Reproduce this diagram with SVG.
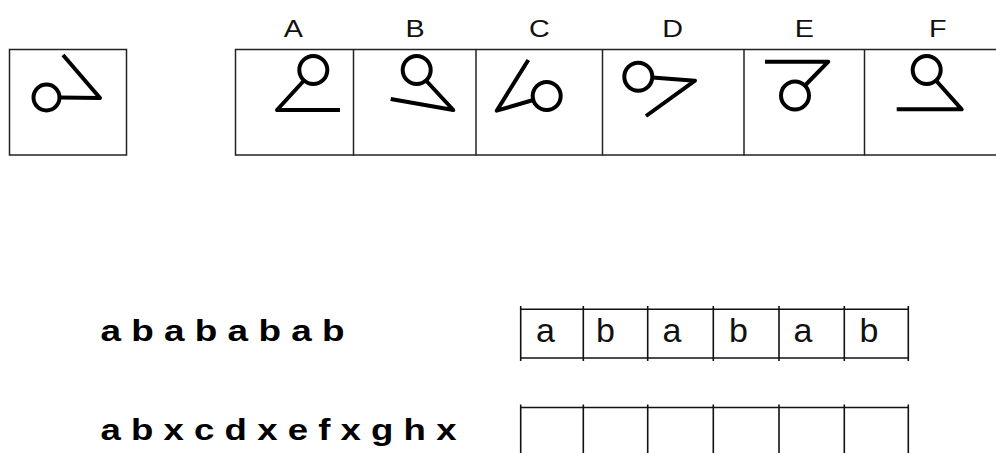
<svg xmlns="http://www.w3.org/2000/svg" width="996" height="453" viewBox="0 0 996 453">
<style>
.frame{fill:none;stroke:#222;stroke-width:1.5}
.grid{fill:none;stroke:#111;stroke-width:1.6}
.fig{fill:none;stroke:#000;stroke-width:4;stroke-linejoin:round;stroke-linecap:butt}
.lab{font-family:"Liberation Sans",Arial,sans-serif;font-size:23px;fill:#111}
.seq{font-family:"Liberation Sans",Arial,sans-serif;font-size:30px;font-weight:bold;fill:#000}
.cell{font-family:"Liberation Sans",Arial,sans-serif;font-size:34px;fill:#111}
</style>
<rect width="996" height="453" fill="#fff"/>

<g id="question">
  <rect class="frame" x="9.5" y="49.5" width="117" height="105.5"/>
  <circle class="fig" cx="46.5" cy="97.5" r="13"/>
  <polyline class="fig" points="59.5,97.5 100,98 63,55"/>
</g>

<g id="options-frame">
  <line class="frame" x1="235" y1="49.5" x2="996" y2="49.5"/>
  <line class="frame" x1="235" y1="155" x2="996" y2="155"/>
  <line class="frame" x1="235.5" y1="49" x2="235.5" y2="155.5"/>
  <line class="frame" x1="353.5" y1="49" x2="353.5" y2="155.5"/>
  <line class="frame" x1="476" y1="49" x2="476" y2="155.5"/>
  <line class="frame" x1="602.5" y1="49" x2="602.5" y2="155.5"/>
  <line class="frame" x1="744" y1="49" x2="744" y2="155.5"/>
  <line class="frame" x1="864.5" y1="49" x2="864.5" y2="155.5"/>
</g>

<g id="optA">
  <text class="lab" text-anchor="middle" transform="translate(293.3,37) scale(1.25,1)">A</text>
  <circle class="fig" cx="313.3" cy="70" r="14"/>
  <polyline class="fig" points="304,80.5 277,110 340,110"/>
</g>
<g id="optB">
  <text class="lab" text-anchor="middle" transform="translate(415,37) scale(1.25,1)">B</text>
  <circle class="fig" cx="416.7" cy="70" r="14"/>
  <polyline class="fig" points="426,80.5 453.3,110 390.7,99"/>
</g>
<g id="optC">
  <text class="lab" text-anchor="middle" transform="translate(539.3,37) scale(1.25,1)">C</text>
  <circle class="fig" cx="546.7" cy="96" r="14"/>
  <polyline class="fig" points="533.3,100 496.7,110.7 528.3,60"/>
</g>
<g id="optD">
  <text class="lab" text-anchor="middle" transform="translate(672.7,37) scale(1.25,1)">D</text>
  <circle class="fig" cx="638.3" cy="76.7" r="14"/>
  <polyline class="fig" points="652.3,77.5 695,80.7 646,116"/>
</g>
<g id="optE">
  <text class="lab" text-anchor="middle" transform="translate(804.3,37) scale(1.25,1)">E</text>
  <circle class="fig" cx="795" cy="95.5" r="14"/>
  <polyline class="fig" points="765,61.7 828.3,61.7 805,85.5"/>
</g>
<g id="optF">
  <text class="lab" text-anchor="middle" transform="translate(937.7,37) scale(1.25,1)">F</text>
  <circle class="fig" cx="926.7" cy="70" r="14"/>
  <polyline class="fig" points="936,80.5 961.7,109.3 896.7,109.3"/>
</g>

<g id="seq1">
  <text class="seq" x="100.5" y="341" textLength="244" lengthAdjust="spacingAndGlyphs">a b a b a b a b</text>
</g>
<g id="seq2">
  <text class="seq" x="100.5" y="440" textLength="356" lengthAdjust="spacingAndGlyphs">a b x c d x e f x g h x</text>
</g>

<g id="table1">
  <line class="grid" x1="520" y1="309.3" x2="909" y2="309.3"/>
  <line class="grid" x1="520" y1="358" x2="909" y2="358"/>
  <line class="grid" x1="520.7" y1="306" x2="520.7" y2="361"/>
  <line class="grid" x1="583.3" y1="306" x2="583.3" y2="361"/>
  <line class="grid" x1="647.7" y1="306" x2="647.7" y2="361"/>
  <line class="grid" x1="713.3" y1="306" x2="713.3" y2="361"/>
  <line class="grid" x1="779" y1="306" x2="779" y2="361"/>
  <line class="grid" x1="844.3" y1="306" x2="844.3" y2="361"/>
  <line class="grid" x1="908.3" y1="306" x2="908.3" y2="361"/>
  <text class="cell" x="536" y="342">a</text>
  <text class="cell" x="596" y="342">b</text>
  <text class="cell" x="662.5" y="342">a</text>
  <text class="cell" x="729" y="342">b</text>
  <text class="cell" x="793.5" y="342">a</text>
  <text class="cell" x="859.5" y="342">b</text>
</g>

<g id="table2">
  <line class="grid" x1="520" y1="407.5" x2="909" y2="407.5"/>
  <line class="grid" x1="520.7" y1="404.5" x2="520.7" y2="453"/>
  <line class="grid" x1="583.3" y1="404.5" x2="583.3" y2="453"/>
  <line class="grid" x1="647.7" y1="404.5" x2="647.7" y2="453"/>
  <line class="grid" x1="713.3" y1="404.5" x2="713.3" y2="453"/>
  <line class="grid" x1="779" y1="404.5" x2="779" y2="453"/>
  <line class="grid" x1="844.3" y1="404.5" x2="844.3" y2="453"/>
  <line class="grid" x1="908.3" y1="404.5" x2="908.3" y2="453"/>
</g>
</svg>
